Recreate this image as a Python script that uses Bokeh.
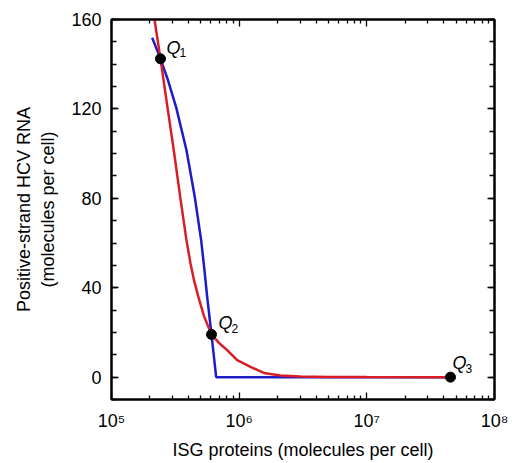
from bokeh.plotting import figure
from bokeh.models import FixedTicker, LogAxis, LinearAxis, ColumnDataSource
from bokeh.embed import file_html
from bokeh.resources import INLINE
from bokeh.core.properties import value

# ---------------- data ----------------
blue_isg = [2.083e5, 2.42e5, 2.775e5, 3.211e5, 3.867e5, 4.491e5, 5.04e5, 5.349e5,
            5.616e5, 6.069e5, 6.606e5, 4.52e7]
blue_rna = [151.8, 142.4, 132.7, 120.7, 101.5, 80.6, 61.2, 47.8,
            35.9, 19.1, 0.0, 0.0]

red_isg = [2.144e5, 2.171e5, 2.42e5, 2.745e5, 3.075e5, 3.458e5, 3.867e5, 4.155e5, 4.426e5,
           4.80e5, 5.301e5, 6.069e5, 6.949e5, 8.054e5, 9.646e5, 1.226e6, 1.558e6, 2.106e6,
           3.0e6, 5.0e6, 1.0e7, 4.52e7]
red_rna = [162.0, 160.0, 142.4, 120.7, 101.5, 80.4, 61.2, 51.0, 43.4,
           35.8, 27.3, 19.1, 15.3, 12.1, 7.6, 4.6, 1.9, 0.75,
           0.3, 0.1, 0.03, 0.0]

q_isg = [2.42e5, 6.069e5, 4.52e7]
q_rna = [142.4, 19.1, 0.0]
q_main = ["Q", "Q", "Q"]
q_sub = ["1", "2", "3"]

x_ticks = [1e5, 1e6, 1e7, 1e8]
x_tick_labels = ["10\u2075", "10\u2076", "10\u2077", "10\u2078"]
y_ticks = [0, 40, 80, 120, 160]

x_label = "ISG proteins (molecules per cell)"
y_label = "Positive-strand HCV RNA\n(molecules per cell)"

# ---------------- styling ----------------
FONT = "Liberation Sans"
BLUE = "#1c1cc8"
RED = "#d81e24"
label_dx = [6, 7, 2]
label_dy = [-11, -11, -14]

p = figure(width=512, height=463, x_axis_type="log", x_range=(1e5, 1e8), y_range=(-10, 160),
           output_backend="svg", toolbar_location=None,
           min_border_left=111, min_border_right=18, min_border_top=19, min_border_bottom=64)
p.grid.visible = False
p.outline_line_color = "black"
p.outline_line_width = 2
p.background_fill_color = "white"
p.border_fill_color = "white"

x_minor = [m * 10 ** e for e in (5, 6, 7) for m in range(2, 10)]
y_minor = list(range(-10, 161, 10))
xt = FixedTicker(ticks=x_ticks, minor_ticks=x_minor)
yt = FixedTicker(ticks=y_ticks, minor_ticks=y_minor)


def style_axis(ax, show_labels):
    ax.axis_line_color = "black"
    ax.axis_line_width = 2
    ax.major_tick_in = 7
    ax.major_tick_out = 0
    ax.minor_tick_in = 4
    ax.minor_tick_out = 0
    ax.major_tick_line_width = 1.3
    ax.minor_tick_line_width = 1.3
    ax.major_tick_line_color = "black"
    ax.minor_tick_line_color = "black"
    ax.major_label_text_font = FONT
    ax.major_label_text_color = "black"
    ax.axis_label_text_font = FONT
    ax.axis_label_text_font_style = "normal"
    ax.axis_label_text_color = "black"
    if not show_labels:
        ax.major_label_text_font_size = "1px"
        ax.major_label_text_alpha = 0
        ax.major_label_standoff = 0


xa = p.xaxis[0]
xa.ticker = xt
style_axis(xa, True)
xa.major_label_overrides = {int(t): lab for t, lab in zip(x_ticks, x_tick_labels)}
xa.major_label_text_font_size = "18px"
xa.major_label_standoff = 11
xa.axis_label = x_label
xa.axis_label_text_font_size = "18px"
xa.axis_label_standoff = 6

ya = p.yaxis[0]
ya.ticker = yt
style_axis(ya, True)
ya.minor_tick_in = 5
ya.major_label_text_font_size = "18px"
ya.major_label_standoff = 10
ya.axis_label = y_label
ya.axis_label_text_font_size = "18px"
ya.axis_label_standoff = 10

top = LogAxis(ticker=xt)
style_axis(top, False)
p.add_layout(top, "above")
right = LinearAxis(ticker=yt)
style_axis(right, False)
right.minor_tick_in = 5
p.add_layout(right, "right")

p.line(blue_isg, blue_rna, line_color=BLUE, line_width=2.5)
p.line(red_isg, red_rna, line_color=RED, line_width=2.5)
p.scatter(q_isg, q_rna, size=10, fill_color="black", line_color="black")

src = ColumnDataSource(dict(x=q_isg, y=q_rna, t=q_main, s=q_sub,
                            dx=label_dx, dy=label_dy,
                            sdx=[d + 13 for d in label_dx], sdy=[d + 5 for d in label_dy]))
p.text(x="x", y="y", text="t", x_offset="dx", y_offset="dy", source=src,
       text_font=value(FONT), text_font_style="italic", text_font_size="18px",
       text_baseline="alphabetic", text_align="left", text_color="black")
p.text(x="x", y="y", text="s", x_offset="sdx", y_offset="sdy", source=src,
       text_font=value(FONT), text_font_size="12px",
       text_baseline="alphabetic", text_align="left", text_color="black")

open("out.html", "w").write(file_html(p, INLINE))
